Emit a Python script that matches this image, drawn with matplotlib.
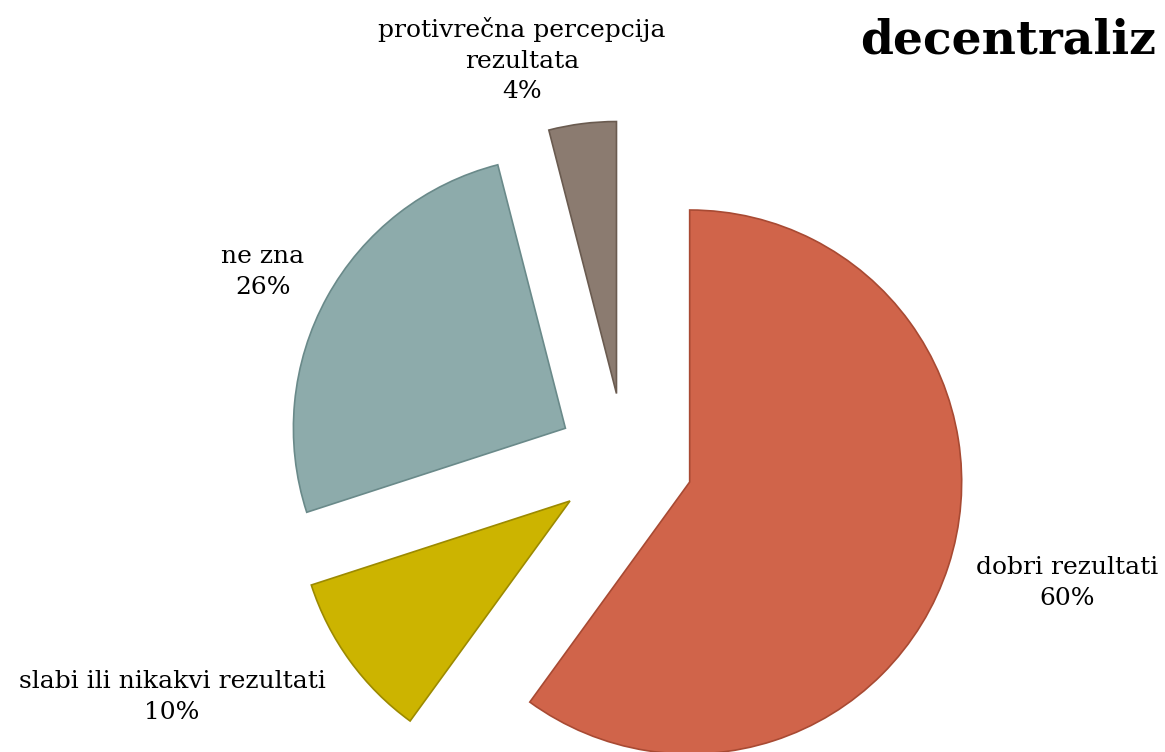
import matplotlib.pyplot as plt

# data
labels = ['dobri rezultati', 'slabi ili nikakvi rezultati', 'ne zna',
          'protivrečna percepcija\nrezultata']
shares = [60, 10, 26, 4]
colors = ['#D0644A', '#CCB400', '#8DABAB', '#8B7B70']
edges = ['#A84A33', '#9C8A00', '#6A8A8A', '#6A5B50']
title = 'decentraliz'  # only this part of the title is visible

# label positions in figure pixels (centre of text block)
label_pos = [(1067, 583), (172, 697), (263, 272), (522, 60)]

W, H = 1165, 752
R = 272  # pie radius in pixels
cx, cy = 625, H - 461

fig = plt.figure(figsize=(W / 100, H / 100), dpi=100)
ax = fig.add_axes([0, 0, 1, 1])

wedges, _ = ax.pie(shares, colors=colors, startangle=90, counterclock=False,
                   explode=[0.25] * 4, radius=1, frame=True,
                   wedgeprops=dict(linewidth=1.2))
for w, ec in zip(wedges, edges):
    w.set_edgecolor(ec)
ax.set_xlim(-cx / R, (W - cx) / R)
ax.set_ylim(-cy / R, (H - cy) / R)
ax.axis('off')

for lab, val, (px, py) in zip(labels, shares, label_pos):
    fig.text(px / W, 1 - py / H, f'{lab}\n{val}%', ha='center', va='center',
             fontsize=18, family='DejaVu Serif', linespacing=1.4)

fig.text(860 / W, 1 - 40 / H, title, ha='left', va='center',
         fontsize=34, fontweight='bold', family='DejaVu Serif')

fig.savefig('out.png', dpi=100)
